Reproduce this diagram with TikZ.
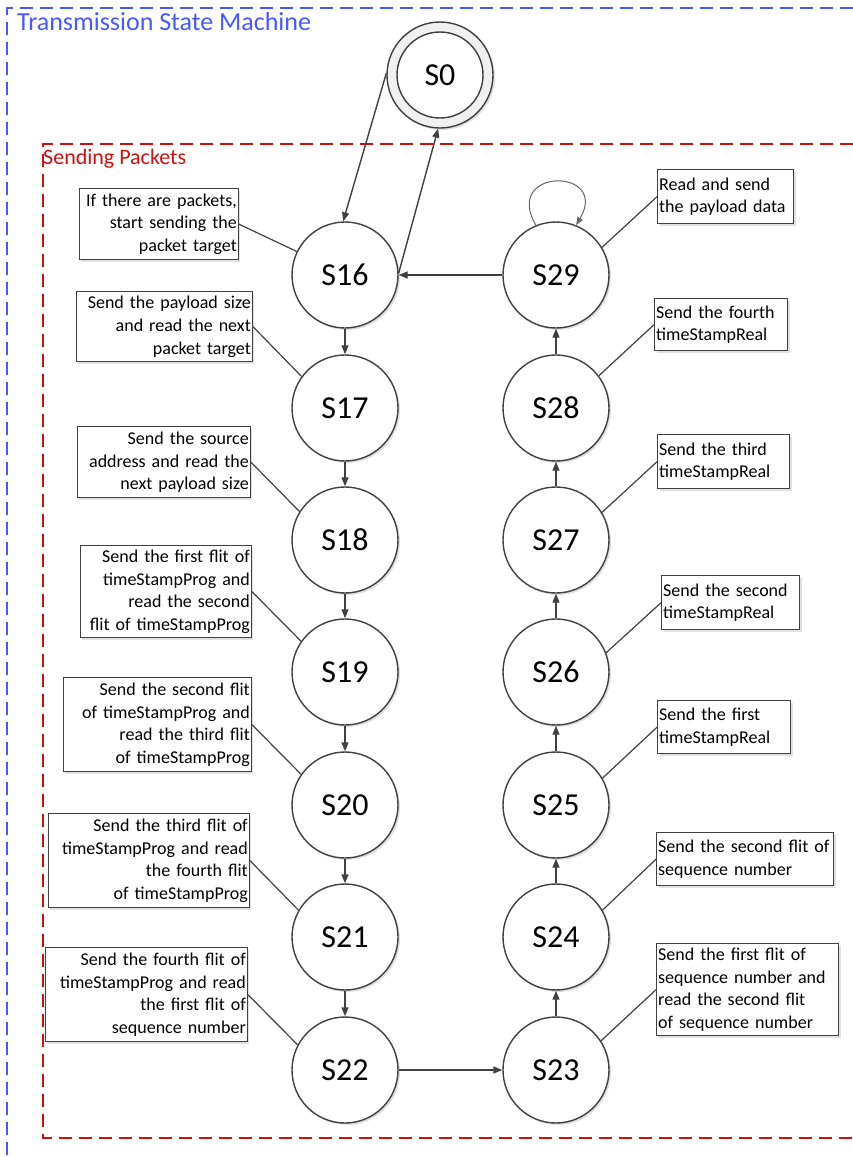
\documentclass[tikz,border=0pt]{standalone}
\usepackage{fontspec}
\setmainfont{Carlito}
\usetikzlibrary{arrows.meta,shadows}
\definecolor{frameblue}{RGB}{72,88,255}
\definecolor{framered}{RGB}{204,16,16}
\definecolor{ink}{RGB}{64,64,64}
\begin{document}
\begin{tikzpicture}[x=1pt,y=-1pt,
  softshadow/.style={drop shadow={shadow xshift=2pt,shadow yshift=-2pt,fill=black,opacity=0.12}},
  state/.style={circle,draw=ink,line width=1.4pt,fill=white,minimum size=106pt,inner sep=0pt,
    font=\fontsize{32}{38}\selectfont,softshadow},
  note/.style={draw=ink,line width=1.4pt,fill=white,inner sep=1.5pt,
    font=\fontsize{18}{22.6}\selectfont,softshadow},
  lnote/.style={note,anchor=north east,align=right},
  rnote/.style={note,anchor=north west,align=left},
  flow/.style={draw=ink,line width=1.4pt,-{Triangle[length=9pt,width=7pt]}},
  selfloop/.style={draw=ink!80,line width=1pt,-{Triangle[length=8pt,width=6pt]}},
  tie/.style={draw=ink,line width=1.2pt},
  frame/.style={line width=1.5pt,dash pattern=on 13pt off 7pt}
]
\useasboundingbox (0,0) rectangle (853,1157);

% outer and inner frames
\draw[frame,frameblue] (853,8) -- (7,8) -- (7,1157);
\draw[frame,framered] (853,144) -- (43,144) -- (43,1138) -- (853,1138);
\node[anchor=base west,inner sep=0pt,text=frameblue,font=\fontsize{26}{31}\selectfont]
  (title) at (17,30) {Transmission State Machine};
\node[anchor=base west,inner sep=0pt,text=framered,font=\fontsize{22}{26}\selectfont]
  (group) at (43,164) {Sending Packets};

% initial state
\node[state,fill=black!6,minimum size=106pt] (S0) at (440,75) {};
\node[circle,draw=ink,line width=1.4pt,fill=white,minimum size=86pt,inner sep=0pt,
  font=\fontsize{32}{38}\selectfont] (S0in) at (440,75) {S0};

% left column
\node[state] (S16) at (345,275) {S16};
\node[state] (S17) at (345,408) {S17};
\node[state] (S18) at (345,540) {S18};
\node[state] (S19) at (345,672) {S19};
\node[state] (S20) at (345,805) {S20};
\node[state] (S21) at (345,937) {S21};
\node[state] (S22) at (345,1070) {S22};
% right column
\node[state] (S29) at (556,275) {S29};
\node[state] (S28) at (556,408) {S28};
\node[state] (S27) at (556,540) {S27};
\node[state] (S26) at (556,672) {S26};
\node[state] (S25) at (556,805) {S25};
\node[state] (S24) at (556,937) {S24};
\node[state] (S23) at (556,1070) {S23};

% transitions
\draw[flow] (S0.178) -- (S16.92);
\draw[flow] (S16.2) -- (S0.268);
\draw[flow] (S29) -- (S16);
\draw[flow] (S16) -- (S17);
\draw[flow] (S17) -- (S18);
\draw[flow] (S18) -- (S19);
\draw[flow] (S19) -- (S20);
\draw[flow] (S20) -- (S21);
\draw[flow] (S21) -- (S22);
\draw[flow] (S22) -- (S23);
\draw[flow] (S23) -- (S24);
\draw[flow] (S24) -- (S25);
\draw[flow] (S25) -- (S26);
\draw[flow] (S26) -- (S27);
\draw[flow] (S27) -- (S28);
\draw[flow] (S28) -- (S29);
\draw[selfloop] (S29.112) .. controls +(-34,-58) and +(34,-58) .. (S29.68);

% left annotations
\node[lnote,text width=156pt,minimum height=71pt] (L16) at (239,188)
  {If there are packets,\\start sending the\\packet target};
\node[lnote,text width=173pt,minimum height=70pt] (L17) at (253,291)
  {Send the payload size\\and read the next\\packet target};
\node[lnote,text width=170pt,minimum height=71pt] (L18) at (251,426)
  {Send the source\\address and read the\\next payload size};
\node[lnote,text width=168pt,minimum height=92pt] (L19) at (252,545)
  {Send the first flit of\\timeStampProg and\\read the second\\flit of timeStampProg};
\node[lnote,text width=185pt,minimum height=94pt] (L20) at (252,677)
  {Send the second flit\\of timeStampProg and\\read the third flit\\of timeStampProg};
\node[lnote,text width=198pt,minimum height=94pt] (L21) at (250,813)
  {Send the third flit of\\timeStampProg and read\\the fourth flit\\of timeStampProg};
\node[lnote,text width=199pt,minimum height=94pt] (L22) at (248,947)
  {Send the fourth flit of\\timeStampProg and read\\the first flit of\\sequence number};

% right annotations
\node[rnote,text width=133pt,minimum height=54pt] (R29) at (657,169)
  {Read and send\\the payload data};
\node[rnote,text width=130pt,minimum height=52pt] (R28) at (654,298)
  {Send the fourth\\timeStampReal};
\node[rnote,text width=129pt,minimum height=54pt] (R27) at (657,434)
  {Send the third\\timeStampReal};
\node[rnote,text width=135pt,minimum height=54pt] (R26) at (661,575)
  {Send the second\\timeStampReal};
\node[rnote,text width=130pt,minimum height=53pt] (R25) at (657,700)
  {Send the first\\timeStampReal};
\node[rnote,text width=174pt,minimum height=53pt] (R24) at (656,832)
  {Send the second flit of\\sequence number};
\node[rnote,text width=179pt,minimum height=92pt] (R23) at (656,943)
  {Send the first flit of\\sequence number and\\read the second flit\\of sequence number};

% annotation leaders
\draw[tie] (L16.east) -- (S16.154);
\draw[tie] (L17.east) -- (S17.144);
\draw[tie] (L18.east) -- (S18.148);
\draw[tie] (L19.east) -- (S19.145);
\draw[tie] (L20.east) -- (S20.145);
\draw[tie] (L21.east) -- (S21.150);
\draw[tie] (L22.east) -- (S22.152);
\draw[tie] (R29.west) -- (S29.31);
\draw[tie] (R28.west) -- (S28.37);
\draw[tie] (R27.west) -- (S27.31);
\draw[tie] (R26.west) -- (S26.21);
\draw[tie] (R25.west) -- (S25.30);
\draw[tie] (R24.west) -- (S24.30);
\draw[tie] (R23.west) -- (S23.33);
\end{tikzpicture}
\end{document}
